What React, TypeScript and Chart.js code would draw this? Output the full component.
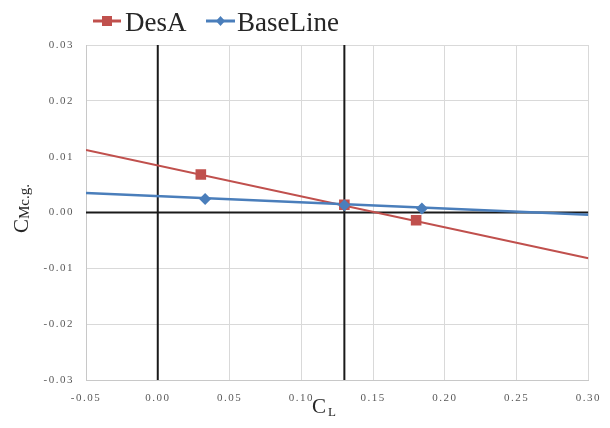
import { useEffect, useRef } from "react";
import { Chart, registerables } from "chart.js";
Chart.register(...registerables);

// DesA measured points (CL, Cm c.g.)
const desA_CL = [0.03, 0.13, 0.18];
const desA_CM = [0.0068, 0.0014, -0.0014];
// BaseLine measured points
const base_CL = [0.033, 0.13, 0.184];
const base_CM = [0.0024, 0.0013, 0.0007];
// Linear fit lines drawn across the full CL range
const trend_CL = [-0.05, 0.3];
const desA_trend = [0.0112, -0.0082];
const base_trend = [0.0035, -0.0004];
// Black reference lines
const refX = [0, 0.13];
const refY = [0];
// Tick values
const xTicks = [-0.05, 0, 0.05, 0.1, 0.15, 0.2, 0.25, 0.3];
const yTicks = [-0.03, -0.02, -0.01, 0, 0.01, 0.02, 0.03];

const RED = "#C0504D";
const BLUE = "#4A7EBB";
const SERIF = "'Liberation Serif', 'DejaVu Serif', serif";

const pts = (xs: number[], ys: number[]) => xs.map((x, i) => ({ x, y: ys[i] }));

export default function App() {
  const ref = useRef<HTMLCanvasElement | null>(null);
  useEffect(() => {
    if (!ref.current) return;
    const xMin = xTicks[0], xMax = xTicks[xTicks.length - 1];
    const yMin = yTicks[0], yMax = yTicks[yTicks.length - 1];

    const refSets: any[] = [
      ...refX.map((v) => ({
        label: "ref",
        data: [{ x: v, y: yMin }, { x: v, y: yMax }],
        showLine: true, borderColor: "#1a1a1a", borderWidth: 2, pointRadius: 0, order: 10,
      })),
      ...refY.map((v) => ({
        label: "ref",
        data: [{ x: xMin, y: v }, { x: xMax, y: v }],
        showLine: true, borderColor: "#1a1a1a", borderWidth: 2, pointRadius: 0, order: 10,
      })),
    ];

    const plugin = {
      id: "deco",
      beforeDraw(chart: any) {
        const c = chart.ctx;
        c.fillStyle = "#fff";
        c.fillRect(0, 0, chart.width, chart.height);
        c.letterSpacing = "1.5px";
      },
      beforeDatasetsDraw(chart: any) {
        chart.ctx.letterSpacing = "0px";
      },
      afterDraw(chart: any) {
        const c = chart.ctx;
        c.save();
        c.letterSpacing = "0px";
        // legend
        const items = [
          { label: "DesA", color: RED, style: "rect", x0: 93, x1: 121, tx: 125 },
          { label: "BaseLine", color: BLUE, style: "diamond", x0: 206, x1: 235, tx: 237 },
        ];
        const ly = 21;
        items.forEach((it) => {
          c.strokeStyle = it.color;
          c.lineWidth = 3;
          c.beginPath();
          c.moveTo(it.x0, ly);
          c.lineTo(it.x1, ly);
          c.stroke();
          c.fillStyle = it.color;
          const mx = (it.x0 + it.x1) / 2;
          if (it.style === "rect") {
            c.fillRect(mx - 5, ly - 5, 10, 10);
          } else {
            c.beginPath();
            c.moveTo(mx, ly - 5);
            c.lineTo(mx + 4.5, ly);
            c.lineTo(mx, ly + 5);
            c.lineTo(mx - 4.5, ly);
            c.closePath();
            c.fill();
          }
          c.fillStyle = "#262626";
          c.font = `27px ${SERIF}`;
          c.textBaseline = "alphabetic";
          c.textAlign = "left";
          c.fillText(it.label, it.tx, 31);
        });
        // x title C_L
        c.fillStyle = "#262626";
        c.font = `21px ${SERIF}`;
        c.fillText("C", 312, 413);
        c.font = `13px ${SERIF}`;
        c.fillText("L", 328, 416);
        // y title C_Mc.g.
        c.translate(28, 233);
        c.rotate(-Math.PI / 2);
        c.font = `21px ${SERIF}`;
        c.fillText("C", 0, 0);
        const w = c.measureText("C").width;
        c.font = `15px ${SERIF}`;
        c.fillText("Mc.g.", w, 1);
        c.restore();
      },
    };

    const chart = new Chart(ref.current, {
      type: "scatter",
      data: {
        datasets: [
          {
            label: "BaseLine",
            data: pts(base_CL, base_CM),
            pointStyle: "rectRot", pointRadius: 6, pointHoverRadius: 6,
            backgroundColor: BLUE, borderColor: BLUE, borderWidth: 0, order: 0,
          },
          {
            label: "DesA",
            data: pts(desA_CL, desA_CM),
            pointStyle: "rect", pointRadius: 7.5, pointHoverRadius: 7.5,
            backgroundColor: RED, borderColor: RED, borderWidth: 0, order: 1,
          },
          {
            label: "DesA fit",
            data: pts(trend_CL, desA_trend),
            showLine: true, borderColor: RED, borderWidth: 2, pointRadius: 0, order: 4,
          },
          {
            label: "BaseLine fit",
            data: pts(trend_CL, base_trend),
            showLine: true, borderColor: BLUE, borderWidth: 2.5, pointRadius: 0, order: 3,
          },
          ...refSets,
        ],
      },
      options: {
        responsive: false,
        animation: false,
        layout: { padding: { left: 0, top: 45, right: 19, bottom: 0 } },
        plugins: { legend: { display: false }, tooltip: { enabled: false } },
        scales: {
          x: {
            type: "linear", min: xMin, max: xMax,
            afterBuildTicks: (s: any) => { s.ticks = xTicks.map((v) => ({ value: v })); },
            afterFit: (s: any) => { s.height = 48; },
            grid: { color: "#d9d9d9", drawTicks: false, lineWidth: 1 },
            border: { color: "#c8c8c8" },
            ticks: {
              padding: 12, color: "#595959", maxRotation: 0, autoSkip: false,
              font: { family: SERIF, size: 11 },
              callback: (v: any) => Number(v).toFixed(2),
            },
          },
          y: {
            type: "linear", min: yMin, max: yMax,
            afterBuildTicks: (s: any) => { s.ticks = yTicks.map((v) => ({ value: v })); },
            afterFit: (s: any) => { s.width = 86; },
            grid: { color: "#d9d9d9", drawTicks: false, lineWidth: 1 },
            border: { color: "#c8c8c8" },
            ticks: {
              padding: 12, color: "#595959", autoSkip: false,
              font: { family: SERIF, size: 11 },
              callback: (v: any) => Number(v).toFixed(2),
            },
          },
        },
      },
      plugins: [plugin],
    } as any);
    return () => chart.destroy();
  }, []);
  return (
    <div style={{ position: "absolute", left: 0, top: 0, width: 610, height: 428 }}>
      <canvas ref={ref} width={610} height={428} />
    </div>
  );
}
